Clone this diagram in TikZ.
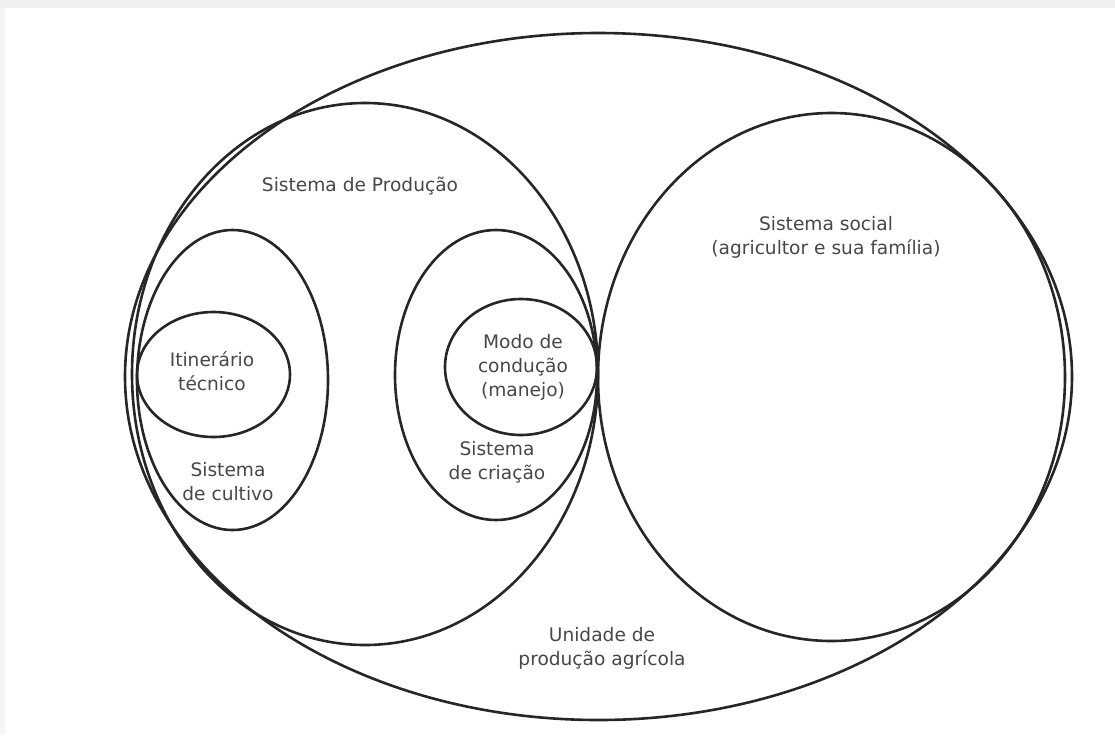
\documentclass[tikz,border=0pt]{standalone}
\usepackage{fontspec}
\setmainfont{DejaVu Sans}
\usepackage{tikz}
\usetikzlibrary{positioning}

\begin{document}
\begin{tikzpicture}[
        x = 0.5pt, y = -0.5pt,
     ring/.style = {draw=black!85, line width=1.3pt},
      txt/.style = {align=center, inner sep=0pt, text=black!72,
                    font=\fontsize{9.3}{12}\selectfont}
                        ]
% frame
\useasboundingbox (0,0) rectangle (1115,735);
\fill[black!6] (0,0) rectangle (1115,8);
\fill[black!4] (0,8) rectangle (5,735);
% sets
\draw[ring] (598.5,376.5) ellipse [x radius=236.75pt, y radius=171.75pt];
\draw[ring] (365,374)     ellipse [x radius=116.5pt,  y radius=135.5pt];
\draw[ring] (831.5,377)   ellipse [x radius=116.75pt, y radius=132pt];
\draw[ring] (232.5,380)   ellipse [x radius=47.75pt,  y radius=75pt];
\draw[ring] (213.5,374.5) ellipse [x radius=38.25pt,  y radius=31.25pt];
\draw[ring] (496,375)     ellipse [x radius=50.5pt,   y radius=72.5pt];
\draw[ring] (521,367)     ellipse [x radius=38pt,     y radius=34pt];
% labels
\node (prod)    [txt] at (360,186) {Sistema de Produção};
\node (social)  [txt] at (826,237) {Sistema social\\(agricultor e sua família)};
\node (itin)    [txt] at (212,371) {Itinerário\\técnico};
\node (cultivo) [txt] at (228,482) {Sistema\\de cultivo};
\node (modo)    [txt] at (523,367) {Modo de\\condução\\(manejo)};
\node (criacao) [txt] at (497,462) {Sistema\\de criação};
\node (unidade) [txt] at (602,648) {Unidade de\\produção agrícola};
\end{tikzpicture}
\end{document}
